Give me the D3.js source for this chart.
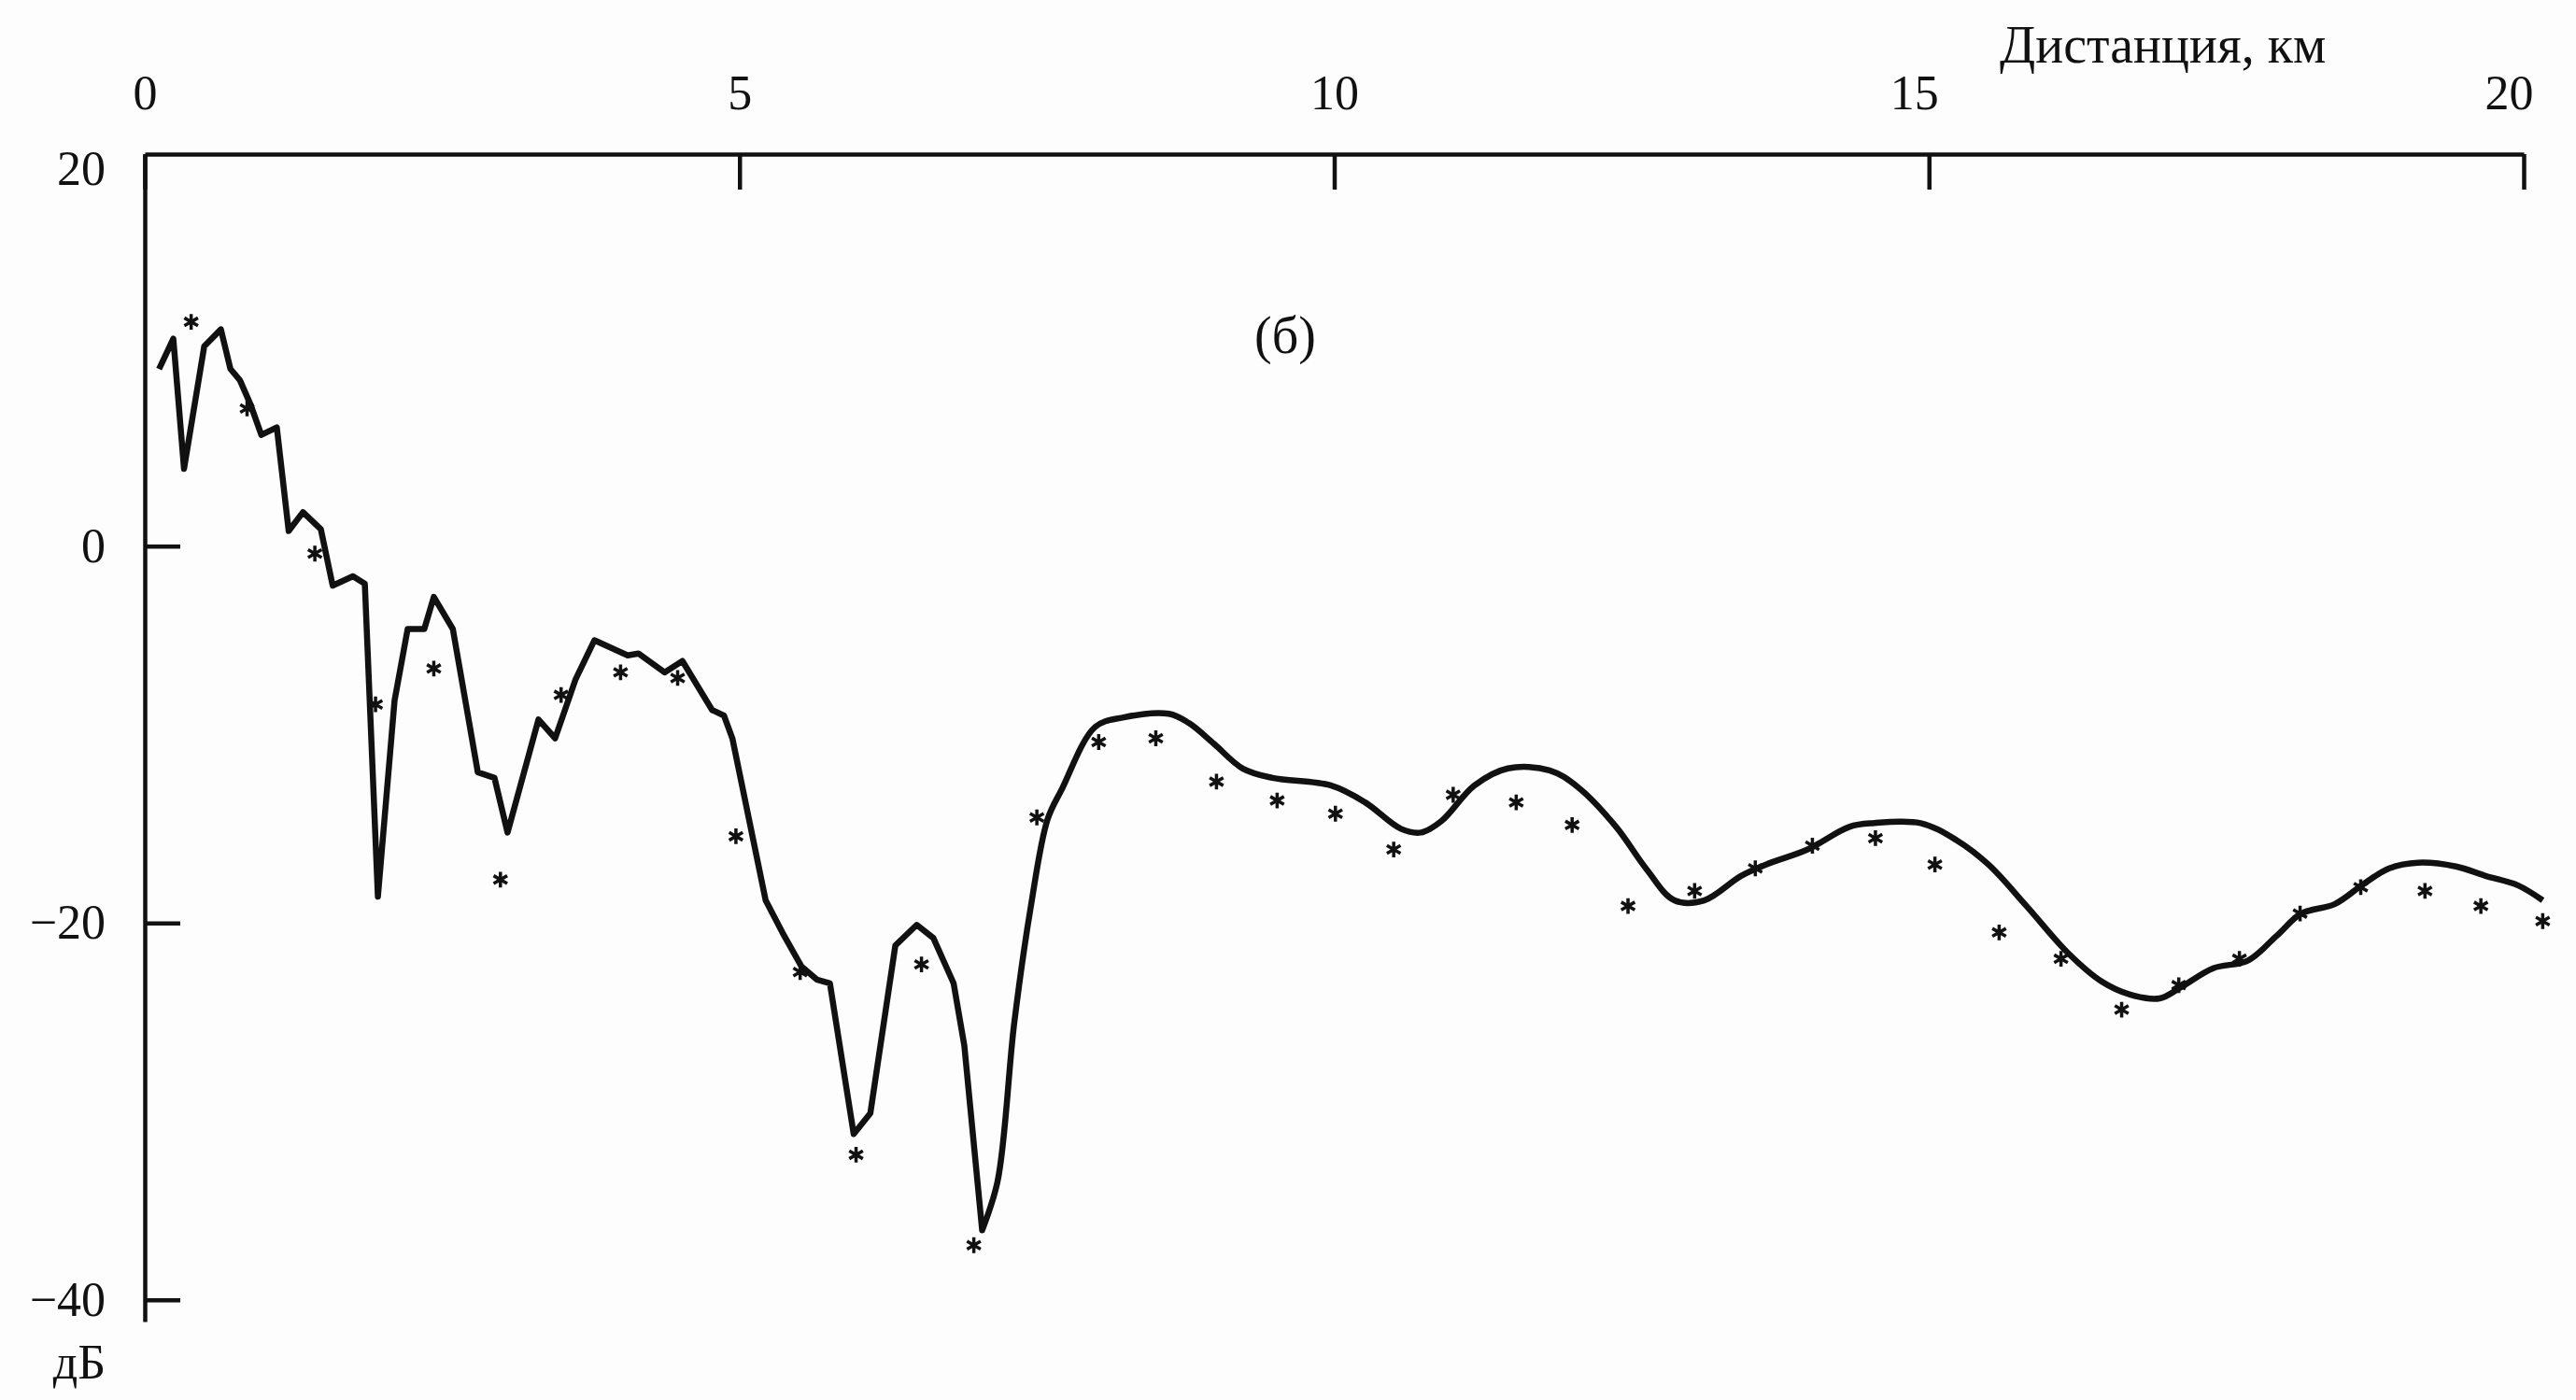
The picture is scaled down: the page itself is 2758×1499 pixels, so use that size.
<!DOCTYPE html>
<html>
<head>
<meta charset="utf-8">
<script src="https://cdn.jsdelivr.net/npm/d3@7"></script>
<style>
    html, body { margin: 0; padding: 0; background: #fdfdfd; }
    svg { display: block; }
    .axis path, .axis line { stroke: #111; stroke-width: 4.5px; }
    .axis text { font-family: "Liberation Serif", serif; font-size: 52px; fill: #111; }
    .label { font-family: "Liberation Serif", serif; font-size: 56px; fill: #111; }
    #model-line { fill: none; stroke: #111; stroke-width: 6.5px; stroke-linejoin: round; }
    .measured { fill: none; stroke: #111; stroke-width: 3.5px; }
</style>
</head>
<body>
<div id="chart"></div>
<script>
// distance, km / level, dB -- solid curve (calculation)
const lineKm = [0.12, 0.24, 0.33, 0.50, 0.64, 0.72, 0.80, 0.89, 0.98, 1.11, 1.21, 1.33, 1.48, 1.58, 1.75, 1.85,
    1.96, 2.10, 2.21, 2.35, 2.43, 2.59, 2.80, 2.94, 3.05, 3.31, 3.45, 3.62, 3.78, 4.06, 4.15, 4.37, 4.52, 4.77,
    4.87, 4.94, 5.22, 5.36, 5.52, 5.65, 5.76, 5.96, 6.10, 6.31, 6.49, 6.63, 6.80, 6.89, 7.04,
    7.17, 7.31, 7.45, 7.59, 7.71, 7.99, 8.22, 8.61, 8.78, 8.99, 9.23, 9.48, 9.97, 10.26, 10.56, 10.73, 10.90,
    11.18, 11.46, 11.81, 12.05, 12.37, 12.62, 12.86, 13.11, 13.42, 13.63, 13.98, 14.33, 14.54, 14.93, 15.23,
    15.50, 15.82, 16.17, 16.45, 16.69, 16.94, 17.12, 17.39, 17.68, 17.92, 18.13, 18.41, 18.66, 18.87, 19.11,
    19.43, 19.68, 19.95, 20.16];
const lineDb = [9.4, 11.0, 4.1, 10.6, 11.5, 9.4, 8.8, 7.5, 5.9, 6.3, 0.8, 1.8, 0.9, -2.1, -1.6, -2.0,
    -18.6, -8.2, -4.4, -4.4, -2.7, -4.4, -12.0, -12.3, -15.2, -9.2, -10.2, -7.1, -5.0, -5.8, -5.7, -6.7, -6.1, -8.7,
    -9.0, -10.2, -18.8, -20.5, -22.3, -23.0, -23.2, -31.2, -30.1, -21.2, -20.1, -20.8, -23.2, -26.5, -36.3,
    -33.7, -25.3, -19.1, -14.5, -12.9, -9.6, -9.1, -8.9, -9.4, -10.5, -11.8, -12.3, -12.7, -13.6, -15.0, -15.2, -14.6,
    -12.7, -11.8, -11.9, -12.8, -14.9, -17.1, -18.8, -18.8, -17.5, -16.9, -16.1, -14.9, -14.7, -14.7, -15.6,
    -16.9, -19.1, -21.6, -23.1, -23.8, -24.0, -23.4, -22.4, -22.0, -20.7, -19.5, -19.0, -17.9, -17.1, -16.8,
    -17.0, -17.5, -18.0, -18.8];
// past this distance the computed curve is smooth
const smoothFromKm = 7.04;

// asterisks (measurement)
const pointKm = [0.39, 0.86, 1.43, 1.94, 2.43, 2.99, 3.50, 4.00, 4.48, 4.97, 5.51, 5.98, 6.53, 6.97, 7.50,
    8.02, 8.50, 9.01, 9.52, 10.01, 10.50, 11.00, 11.53, 12.00, 12.47, 13.03, 13.54, 14.02, 14.55, 15.05,
    15.59, 16.11, 16.62, 17.10, 17.61, 18.12, 18.63, 19.17, 19.64, 20.16];
const pointDb = [11.9, 7.3, -0.4, -8.4, -6.5, -17.7, -7.9, -6.7, -7.0, -15.4, -22.6, -32.3, -22.2, -37.1, -14.4,
    -10.4, -10.2, -12.5, -13.5, -14.2, -16.1, -13.2, -13.6, -14.8, -19.1, -18.3, -17.1, -15.9, -15.5, -16.9,
    -20.5, -21.9, -24.6, -23.3, -21.9, -19.5, -18.1, -18.3, -19.1, -19.9];

const xTicks = [0, 5, 10, 15, 20];
const yTicks = [20, 0, -20, -40];

const config = {
    width: 2758,
    height: 1499,
    left: 155,
    right: 2702,
    top: 165,
    bottom: 1415,
    tick: 38,
}

const svg = d3.select('#chart')
    .append('svg')
    .attr('width', config.width)
    .attr('height', config.height)
;

let xScale = d3.scaleLinear()
    .domain([0, 20])
    .range([config.left, config.right])
;

// frame runs a little past 20 dB at the top and past -40 dB at the bottom
let yScale = d3.scaleLinear()
    .domain([-41.15, 20.8])
    .range([config.bottom, config.top])
;

// x axis on top, ticks pointing down into the plot
let xAxisG = svg.append('g')
    .attr('class', 'axis')
    .attr('transform', `translate(0, ${config.top})`)
    .call(d3.axisTop(xScale)
        .tickValues(xTicks)
        .tickFormat(d3.format('d'))
        .tickSizeInner(-config.tick)
        .tickSizeOuter(0)
        .tickPadding(48))
;
// the last labels sit a bit left of their ticks in the original
xAxisG.selectAll('.tick text')
    .attr('dx', d => d >= 15 ? -16 : 0)
;

// y axis, ticks pointing right
let yAxisG = svg.append('g')
    .attr('class', 'axis')
    .attr('transform', `translate(${config.left}, 0)`)
    .call(d3.axisLeft(yScale)
        .tickValues(yTicks)
        .tickFormat(d => d < 0 ? '\u2212' + Math.abs(d) : d)
        .tickSizeInner(-config.tick)
        .tickSizeOuter(0)
        .tickPadding(42))
;
// no separate tick at 20, the corner of the frame is there
yAxisG.selectAll('.tick')
    .filter(d => d === 20)
    .select('line')
    .remove()
;

svg.append('text')
    .attr('class', 'label')
    .attr('x', 2141)
    .attr('y', 67)
    .text('Дистанция, км')
;

svg.append('text')
    .attr('class', 'label')
    .attr('x', 85)
    .attr('y', 1476)
    .attr('text-anchor', 'middle')
    .style('font-size', '52px')
    .text('дБ')
;

svg.append('text')
    .attr('class', 'label')
    .attr('x', 1376)
    .attr('y', 378)
    .attr('text-anchor', 'middle')
    .text('(б)')
;

// solid curve: broken line first, smooth afterwards
let linePts = lineKm.map((k, i) => [k, lineDb[i]]);
let jagged = linePts.filter(p => p[0] <= smoothFromKm);
let smooth = linePts.filter(p => p[0] >= smoothFromKm);

let jaggedGen = d3.line()
    .x(d => xScale(d[0]))
    .y(d => yScale(d[1]))
    .curve(d3.curveLinear)
;
let smoothGen = d3.line()
    .x(d => xScale(d[0]))
    .y(d => yScale(d[1]))
    .curve(d3.curveCatmullRom.alpha(0.5))
;

svg.append('path')
    .attr('id', 'model-line')
    .attr('d', jaggedGen(jagged) + smoothGen(smooth).replace(/^M[^CL]*/, 'L' + xScale(smooth[0][0]) + ',' + yScale(smooth[0][1])))
;

// measured values as asterisks
let star = d3.symbol().type(d3.symbolAsterisk).size(200);
svg.selectAll('.measured')
    .data(pointKm.map((k, i) => [k, pointDb[i]]))
    .enter()
    .append('path')
    .attr('class', 'measured')
    .attr('transform', d => `translate(${xScale(d[0])}, ${yScale(d[1])})`)
    .attr('d', star)
;
</script>
</body>
</html>
